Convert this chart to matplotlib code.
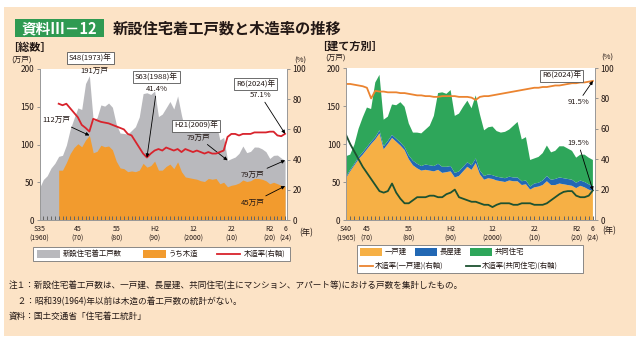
import numpy as np
import matplotlib.pyplot as plt
from matplotlib.patches import Rectangle
from matplotlib.lines import Line2D

plt.rcParams['font.family'] = ['Noto Sans CJK JP', 'DejaVu Sans']

# ---- data (万戸, %) ----
years_all = np.arange(1960, 2025)
total_starts = [42.4, 53.6, 58.6, 68.8, 75.1, 84.3, 85.7, 99.1, 120.2, 134.7,
                148.5, 146.4, 180.8, 191.0, 131.6, 135.6, 152.4, 150.8, 154.9, 149.3,
                126.9, 115.2, 114.6, 113.7, 118.7, 123.6, 136.5, 167.4, 168.5, 166.3,
                170.7, 137.0, 140.3, 148.6, 157.0, 147.0, 164.3, 138.7, 118.0, 121.5,
                123.0, 117.4, 115.1, 116.0, 118.9, 123.6, 129.0, 106.1, 109.4, 79.0,
                81.3, 83.4, 88.3, 98.0, 89.2, 90.9, 96.7, 96.5, 94.2, 90.5,
                81.5, 85.6, 86.0, 82.0, 79.0]

years_wood = np.arange(1965, 2025)
wood_starts = [66, 66, 76, 88, 96,
               101, 97, 106, 112, 89, 91, 99, 97, 98, 93,
               78, 69, 68, 64, 65, 64, 66, 75, 70, 72,
               78, 66, 66, 71, 74, 68, 77, 64, 57, 56,
               55, 54, 52, 51, 55, 54, 55, 48, 50, 44,
               46, 47, 49, 53, 51, 52, 55, 55, 54, 52,
               48, 50, 48, 46, 45]
wood_ratio = [77, 76, 77, 74, 71,
              68, 63, 61, 58.6, 67, 66, 65, 64.5, 64, 63,
              62, 61, 60, 57, 56, 52, 48, 44, 41.4, 44,
              46, 47, 46, 48, 47, 46, 47, 45, 47, 46,
              45, 46, 45, 44, 45, 44, 44, 45, 46, 55,
              57, 57, 56, 57, 57, 57, 58, 58, 58, 58,
              58.5, 58.5, 56, 55.5, 57.1]

# by type of building, 1965-2024
detached = [55, 64, 72, 80, 86,
            93, 100, 106, 114, 93, 100, 108, 103, 98, 92,
            80, 72, 68, 65, 66, 65, 64, 66, 62, 63,
            64, 56, 58, 64, 70, 66, 75, 60, 53, 55,
            54, 52, 51, 50, 52, 51, 51, 46, 47, 40,
            43, 44, 46, 51, 46, 46, 48, 47, 46, 45,
            42, 45, 43, 40, 38]
row_house = [2, 2, 2, 3, 3,
             3, 3, 3, 4, 4, 4, 4, 4, 4, 4,
             5, 6, 6, 6, 7, 7, 7, 8, 8, 7,
             7, 6, 6, 6, 6, 6, 6, 5, 5, 5,
             5, 5, 5, 5, 5, 5, 5, 5, 5, 4,
             5, 5, 6, 7, 7, 8, 8, 8, 8, 8,
             7, 7, 7, 7, 6]
apartment = [27, 20, 25, 37, 46,
             52, 43, 72, 73, 35, 32, 40, 44, 53, 53,
             42, 37, 41, 43, 46, 52, 66, 93, 98, 96,
             100, 75, 76, 79, 81, 75, 83, 74, 60, 62,
             64, 60, 59, 61, 62, 68, 73, 55, 57, 35,
             33, 34, 36, 40, 36, 37, 41, 42, 40, 38,
             33, 34, 36, 35, 35]
ratio_detached = [89.5, 89.5, 89, 88.5, 88,
                  87, 80, 85, 84.5, 84.5, 84, 84, 84, 83.5, 83.5,
                  83, 82.5, 82, 82, 81.5, 81.5, 81, 81, 81.5, 81.5,
                  81.5, 81.5, 81, 81, 81, 80.5, 79, 81, 81.5, 81.5,
                  82, 82.5, 83, 83.5, 84, 84.5, 85, 85.5, 86, 86.5,
                  87, 87, 87.5, 87.5, 88, 88.5, 88.5, 89, 89.5, 90,
                  90, 90.5, 90.5, 91, 91.5]
ratio_apartment = [56, 50, 45, 40, 35,
                   31, 27, 23, 19, 18, 19, 24, 18, 14, 11,
                   11, 13, 15, 15, 15, 16, 16, 15, 15, 17,
                   18, 20, 15, 14, 13, 12, 12, 11, 10, 10,
                   8.5, 10, 11, 11, 11, 10, 10, 11, 11, 11,
                   10, 10, 10, 11, 13, 15, 17, 18.5, 19, 19,
                   16, 15, 15, 16, 19.5]

tick_years = [1960, 1970, 1980, 1990, 2000, 2010, 2020, 2024]
tick_names = ['S35\n(1960)', '45\n(70)', '55\n(80)', 'H2\n(90)', '12\n(2000)',
              '22\n(10)', 'R2\n(20)', '6\n(24)']
tick_years_r = [1965, 1970, 1980, 1990, 2000, 2010, 2020, 2024]
tick_names_r = ['S40\n(1965)', '45\n(70)', '55\n(80)', 'H2\n(90)', '12\n(2000)',
                '22\n(10)', 'R2\n(20)', '6\n(24)']

# colours
BG = '#FCE3C6'
GRAY = '#B9B9BD'
ORANGE = '#F29B2E'
RED = '#D8232C'
ORANGE_R = '#F6B045'
BLUE = '#2268B4'
GREEN = '#2EA65A'
LINE_OR = '#EB8430'
LINE_DG = '#1D5230'
TXT = '#231815'

W, H = 640, 344
fig = plt.figure(figsize=(W / 100, H / 100), dpi=100)
fig.patch.set_facecolor('white')


def fbox(x0, y0, x1, y1):
    return [x0 / W, 1 - y1 / H, (x1 - x0) / W, (y1 - y0) / H]


def fxy(x, y):
    return (x / W, 1 - y / H)


def ftext(x, y, s, **kw):
    kw.setdefault('color', TXT)
    kw.setdefault('va', 'center')
    fig.text(x / W, 1 - y / H, s, **kw)


def frect(x0, y0, x1, y1, **kw):
    fig.add_artist(Rectangle(fxy(x0, y1), (x1 - x0) / W, (y1 - y0) / H,
                             transform=fig.transFigure, **kw))


def fline(x0, x1, y, **kw):
    fig.add_artist(Line2D([x0 / W, x1 / W], [1 - y / H, 1 - y / H],
                          transform=fig.transFigure, **kw))


# panel background and heading
frect(4, 7, 636, 336, fc=BG, ec='none', zorder=0)
frect(15, 19, 104, 37, fc='#2F9A52', ec='none')
ftext(59.5, 28.5, '資料Ⅲ－12', color='white', fontsize=10.5, fontweight='bold', ha='center')
ftext(113, 28, '新設住宅着工戸数と木造率の推移', fontsize=11, fontweight='bold')
ftext(7, 48, '［総数］', fontsize=8, fontweight='bold')
ftext(316, 46, '［建て方別］', fontsize=8, fontweight='bold')


def style_axes(ax, ax2, ticks, names, x0):
    ax.set_ylim(0, 200)
    ax2.set_ylim(0, 100)
    ax.set_xlim(x0, 2024.5)
    ax.set_yticks(range(0, 201, 50))
    ax2.set_yticks(range(0, 101, 20))
    ax.set_xticks(ticks)
    ax.set_xticklabels(names, fontsize=5, linespacing=1.3)
    ax.set_xticks(np.arange(x0, 2025), minor=True)
    ax.tick_params(axis='x', which='both', direction='in', length=3, width=0.7,
                   color='#666666', pad=3.5, labelcolor=TXT)
    ax.tick_params(axis='y', direction='out', length=2.5, width=0.6,
                   color='#888888', labelsize=6, pad=1.5, labelcolor=TXT)
    ax2.tick_params(axis='y', direction='out', length=2.5, width=0.6,
                    color='#888888', labelsize=6, pad=1.5, labelcolor=TXT)
    for a in (ax, ax2):
        a.spines['top'].set_visible(False)
        for s in ('left', 'right', 'bottom'):
            a.spines[s].set_color('#999999')
            a.spines[s].set_linewidth(0.6)
    ax.set_zorder(1)
    ax2.set_zorder(2)
    ax2.patch.set_visible(False)


# ---- left: total ----
ax = fig.add_axes(fbox(39.5, 69, 287, 220))
ax2 = ax.twinx()
ax.fill_between(years_all, total_starts, color=GRAY, lw=0)
ax.fill_between(years_wood, wood_starts, color=ORANGE, lw=0)
ax2.plot(years_wood, wood_ratio, color=RED, lw=1.3)
style_axes(ax, ax2, tick_years, tick_names, 1960)

ann = dict(fontsize=5.5, color=TXT, ha='center', va='center', annotation_clip=False)
box = dict(boxstyle='square,pad=0.25', fc='white', ec='#555555', lw=0.6)
arrow = dict(arrowstyle='-|>', color='black', lw=0.6, mutation_scale=5, shrinkA=0, shrinkB=0)

ax.annotate('S48(1973)年', xy=(1973.3, 214), bbox=box, **ann)
ax.annotate('191万戸', xy=(1973, 191), xytext=(1974.2, 197), **ann)
ax.annotate('112万戸', xy=(1973, 112), xytext=(1964.5, 132), arrowprops=arrow, **ann)
ax2.annotate('S63(1988)年', xy=(1990.5, 94.5), bbox=box, **ann)
ax2.annotate('41.4%', xy=(1988, 41.4), xytext=(1990.5, 86.5), arrowprops=arrow, **ann)
ax2.annotate('R6(2024)年', xy=(2016.3, 90), bbox=box, **ann)
ax2.annotate('57.1%', xy=(2024, 57.1), xytext=(2017.6, 82.5), arrowprops=arrow, **ann)
ax.annotate('H21(2009)年', xy=(2000.8, 125), bbox=box, **ann)
ax.annotate('79万戸', xy=(2009, 79), xytext=(2001.5, 109), arrowprops=arrow, **ann)
ax.annotate('79万戸', xy=(2024, 79), xytext=(2015.5, 60), arrowprops=arrow, **ann)
ax.annotate('45万戸', xy=(2024, 45), xytext=(2015.5, 23), arrowprops=arrow, **ann)

ftext(21, 60, '(万戸)', fontsize=5.5, ha='center')
ftext(300, 61, '(%)', fontsize=5.5, ha='center')
ftext(306, 233, '(年)', fontsize=6, ha='center')

# ---- right: by type ----
bx = fig.add_axes(fbox(346, 68, 595, 220))
bx2 = bx.twinx()
bx.stackplot(years_wood, detached, row_house, apartment,
             colors=[ORANGE_R, BLUE, GREEN], lw=0)
bx2.plot(years_wood, ratio_detached, color=LINE_OR, lw=1.3)
bx2.plot(years_wood, ratio_apartment, color=LINE_DG, lw=1.3)
style_axes(bx, bx2, tick_years_r, tick_names_r, 1965)

bx2.annotate('R6(2024)年', xy=(2016.5, 95), bbox=box, **ann)
bx2.annotate('91.5%', xy=(2024, 91.5), xytext=(2020.5, 77.5), arrowprops=arrow, **ann)
bx2.annotate('19.5%', xy=(2024, 19.5), xytext=(2020.5, 50.5), arrowprops=arrow, **ann)

ftext(335, 58, '(万戸)', fontsize=5.5, ha='center')
ftext(607, 58, '(%)', fontsize=5.5, ha='center')
ftext(609, 231, '(年)', fontsize=6, ha='center')

# ---- legends ----
frect(33, 247, 290, 261, fc='white', ec='#777777', lw=0.6)
frect(37, 250, 60, 258, fc=GRAY, ec='none')
ftext(63, 254, '新設住宅着工戸数', fontsize=5.3)
frect(143, 250, 166, 258, fc=ORANGE, ec='none')
ftext(169, 254, 'うち木造', fontsize=5.3)
fline(217, 240, 254, color=RED, lw=1.3)
ftext(244, 254, '木造率(右軸)', fontsize=5.3)

frect(357, 245, 583, 273, fc='white', ec='#777777', lw=0.6)
frect(360, 248, 382, 256, fc=ORANGE_R, ec='none')
ftext(385, 252, '一戸建', fontsize=5.3)
frect(415, 248, 437, 256, fc=BLUE, ec='none')
ftext(440, 252, '長屋建', fontsize=5.3)
frect(470, 248, 492, 256, fc=GREEN, ec='none')
ftext(495, 252, '共同住宅', fontsize=5.3)
fline(360, 373, 266, color=LINE_OR, lw=1.3)
ftext(375, 266, '木造率(一戸建)(右軸)', fontsize=5.3)
fline(466, 480, 266, color=LINE_DG, lw=1.3)
ftext(482, 266, '木造率(共同住宅)(右軸)', fontsize=5.3)

# ---- notes ----
ftext(9, 286, '注１：新設住宅着工戸数は、一戸建、長屋建、共同住宅(主にマンション、アパート等)における戸数を集計したもの。', fontsize=6.2)
ftext(9, 301, '　２：昭和39(1964)年以前は木造の着工戸数の統計がない。', fontsize=6.2)
ftext(9, 316, '資料：国土交通省「住宅着工統計」', fontsize=6.2)

fig.savefig('out.png', dpi=100)
